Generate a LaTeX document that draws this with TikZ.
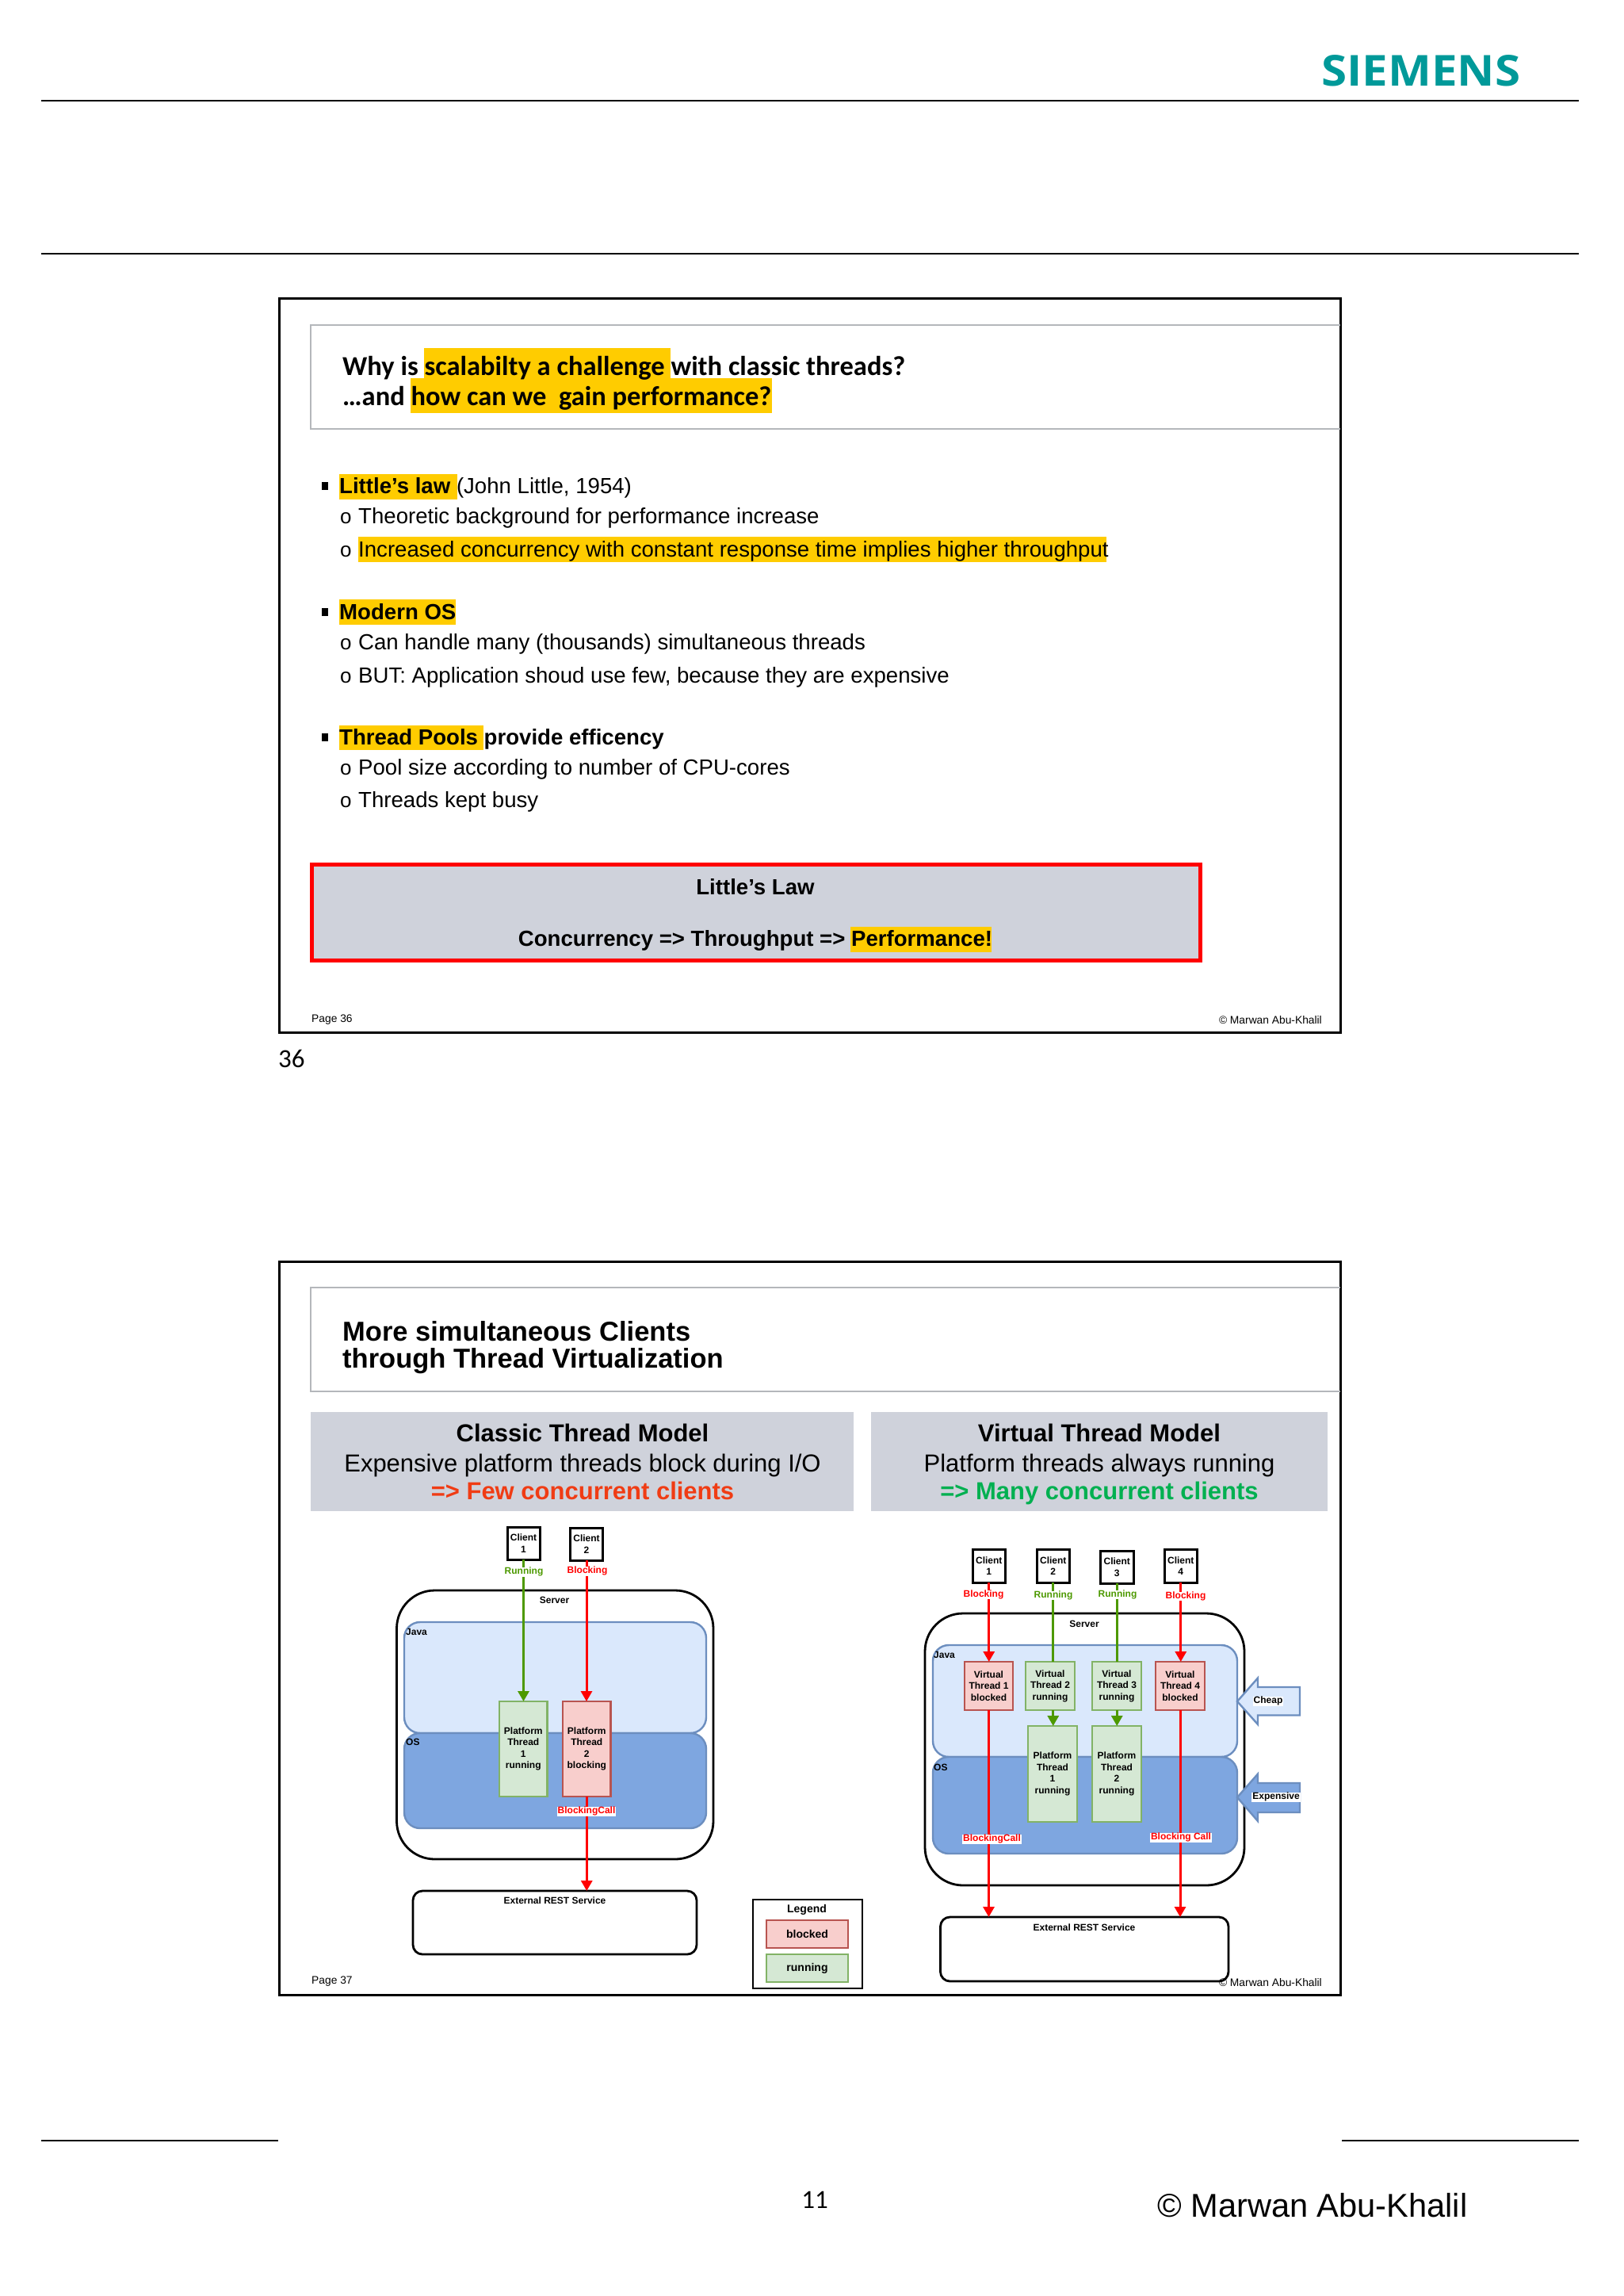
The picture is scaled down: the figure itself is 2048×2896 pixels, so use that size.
\documentclass[tikz,border=0pt]{standalone}
\usepackage{fontspec}
\setmainfont{Liberation Sans}
\newfontfamily\carl{Carlito}
\newfontfamily\siem{Open Sans}
\usetikzlibrary{arrows.meta,shapes.arrows}
\definecolor{hlc}{HTML}{FFCC00}
\definecolor{greybox}{HTML}{CFD2DB}
\definecolor{titleline}{HTML}{B4B7BB}
\definecolor{gs}{HTML}{82B366}\definecolor{gf}{HTML}{D5E8D4}
\definecolor{rs}{HTML}{B85450}\definecolor{rf}{HTML}{F8CECC}
\definecolor{bs}{HTML}{6C8EBF}\definecolor{jf}{HTML}{DAE8FC}\definecolor{of}{HTML}{7EA6E0}
\definecolor{gline}{HTML}{4D9900}
\definecolor{sgreen}{HTML}{009999}
\definecolor{fewc}{HTML}{F03C14}\definecolor{manyc}{HTML}{00B050}
\newcommand\fz[1]{\fontsize{#1}{#1}\selectfont}
\newcommand\bx[7]{\pgfmathsetmacro\bw{#5-#3}\pgfmathsetmacro\bh{#6-#4}%
  \node[anchor=north west,minimum width=\bw pt,minimum height=\bh pt,inner sep=0pt,outer sep=0pt,align=center,#1] (#2) at (#3,#4) {#7};}
\tikzset{
  x=1pt,y=-1pt,
  hl/.style={fill=hlc},
  slideframe/.style={draw=black,line width=3pt},
  tline/.style={draw=titleline,line width=1.6pt},
  rule/.style={draw=black,line width=1.6pt},
  ttl/.style={anchor=base west,inner sep=0pt,font=\carl\bfseries\fz{34.5}},
  ttlb/.style={anchor=base west,inner sep=0pt,font=\bfseries\fz{34.5}},
  item/.style={anchor=base west,inner sep=0pt,font=\fz{27.6}},
  itemb/.style={anchor=base west,inner sep=0pt,font=\bfseries\fz{27.6}},
  squarebul/.style={fill=black,minimum width=8pt,minimum height=10pt,inner sep=0pt},
  sub/.style={anchor=base west,inner sep=0pt,font=\fz{26}},
  cent/.style={anchor=base,inner sep=0pt},
  small/.style={inner sep=0pt,font=\fz{13.8}},
  greyhead/.style={fill=greybox},
  client/.style={draw=black,line width=3pt,fill=white,font=\bfseries\fontsize{12}{14.7}\selectfont},
  lbl/.style={inner sep=1pt,fill=white,font=\bfseries\fz{12},text height=.72em,text depth=.2em},
  plain/.style={inner sep=0pt,font=\bfseries\fz{12},text height=.72em,text depth=.2em},
  server/.style={draw=black,line width=2.8pt,rounded corners=48pt},
  java/.style={draw=bs,line width=2.4pt,fill=jf,rounded corners=20pt},
  os/.style={draw=bs,line width=2.4pt,fill=of,rounded corners=20pt},
  ext/.style={draw=black,line width=2.8pt,rounded corners=12pt,fill=white},
  gbox/.style={draw=gs,fill=gf,line width=2.6pt,font=\bfseries\fontsize{12}{14.5}\selectfont},
  rbox/.style={draw=rs,fill=rf,line width=2.6pt,font=\bfseries\fontsize{12}{14.5}\selectfont},
  leg/.style={font=\bfseries\fz{14}},
  redarr/.style={draw=red,line width=3pt,-{Triangle[width=14pt,length=13pt]}},
  greenarr/.style={draw=gline,line width=3pt,-{Triangle[width=14pt,length=13pt]}},
  greenln/.style={draw=gline,line width=3pt},
  blockarr/.style={draw=bs,line width=2.4pt},
}
\begin{document}
\begin{tikzpicture}
\useasboundingbox[fill=white] (0,0) rectangle (2048,2896);
% page furniture
\coordinate (r1a) at (52,127);\coordinate (r1b) at (1992,127);
\coordinate (r2a) at (52,320);\coordinate (r2b) at (1992,320);
\coordinate (r3a) at (52,2700);\coordinate (r3b) at (351,2700);
\coordinate (r4a) at (1693,2700);\coordinate (r4b) at (1992,2700);
\draw[rule] (r1a)--(r1b);\draw[rule] (r2a)--(r2b);\draw[rule] (r3a)--(r3b);\draw[rule] (r4a)--(r4b);
\node[anchor=base west,inner sep=0pt,text=sgreen,font=\siem\bfseries\fz{54}] (logo) at (1667,108) {\resizebox{251pt}{39pt}{SIEMENS}};
\node[anchor=base,inner sep=0pt,font=\carl\fz{33}] (pagenum) at (1028,2785) {11};
\node[anchor=base west,inner sep=0pt,font=\fz{41.6}] (copymain) at (1460,2796) {© Marwan Abu-Khalil};

% ===== slide 36
\bx{slideframe}{s1}{352}{376}{1691}{1302}{}
\draw[tline] (1691,410) -- (392,410) -- (392,541) -- (1691,541);
\bx{hl}{h1}{535}{439}{846}{477}{}
\bx{hl}{h2}{518}{477}{974}{521}{}
\node[ttl] (t1a) at (432,473) {Why is scalabilty a challenge with classic threads?};
\node[ttl] (t1b) at (432,511) {…and how can we\ \ gain performance?};

\bx{hl}{h3}{428}{598}{577}{630}{}
\bx{hl}{h4}{452}{677}{1396}{709}{}
\bx{hl}{h5}{428}{756}{575}{788}{}
\bx{hl}{h6}{428}{915}{610}{946}{}
\bx{squarebul}{b1}{406}{608}{414}{618}{}
\bx{squarebul}{b2}{406}{767}{414}{777}{}
\bx{squarebul}{b3}{406}{925}{414}{935}{}
\node[itemb] (i1) at (428,622) {Little’s law\ \textmd{(John Little, 1954)}};
\node[sub] (o1) at (429,660.5) {o};\node[item] (i2) at (452,660.5) {Theoretic background for performance increase};
\node[sub] (o2) at (429,702.5) {o};\node[item] (i3) at (452,702.5) {Increased concurrency with constant response time implies higher throughput};
\node[itemb] (i4) at (428,781) {Modern OS};
\node[sub] (o3) at (429,819) {o};\node[item] (i5) at (452,819) {Can handle many (thousands) simultaneous threads};
\node[sub] (o4) at (429,861) {o};\node[item] (i6) at (452,861) {BUT: Application shoud use few, because they are expensive};
\node[itemb] (i7) at (428,939) {Thread Pools provide efficency};
\node[sub] (o5) at (429,977) {o};\node[item] (i8) at (452,977) {Pool size according to number of CPU-cores};
\node[sub] (o6) at (429,1018) {o};\node[item] (i9) at (452,1018) {Threads kept busy};

\bx{draw=red,line width=5pt,fill=greybox}{lawbox}{393}{1090}{1514}{1211}{}
\bx{hl}{h7}{1073}{1169}{1251}{1201}{}
\node[cent,font=\bfseries\fz{27.6}] (law1) at (953,1128) {Little’s Law};
\node[cent,font=\bfseries\fz{27.6}] (law2) at (953,1193) {Concurrency => Throughput => Performance!};
\node[small,anchor=base west] (p36) at (393,1289) {Page 36};
\node[small,anchor=base east] (c36) at (1668,1291) {© Marwan Abu-Khalil};
\node[anchor=base west,inner sep=0pt,font=\carl\fz{33}] (n36) at (351,1346) {36};

% ===== slide 37
\bx{slideframe}{s2}{352}{1591}{1691}{2516}{}
\draw[tline] (1691,1624) -- (392,1624) -- (392,1755) -- (1691,1755);
\node[ttlb] (t2a) at (432,1691) {More simultaneous Clients};
\node[ttlb] (t2b) at (432,1725) {through Thread Virtualization};
\bx{greyhead}{gl}{392}{1781}{1077}{1906}{}
\bx{greyhead}{gr}{1099}{1781}{1675}{1906}{}
\node[cent,font=\bfseries\fz{31}] (gl1) at (735,1818) {Classic Thread Model};
\node[cent,font=\fz{31}] (gl2) at (735,1856) {Expensive platform threads block during I/O};
\node[cent,font=\bfseries\fz{31},text=fewc] (gl3) at (735,1891) {=> Few concurrent clients};
\node[cent,font=\bfseries\fz{31}] (gr1) at (1387,1818) {Virtual Thread Model};
\node[cent,font=\fz{31}] (gr2) at (1387,1856) {Platform threads always running};
\node[cent,font=\bfseries\fz{31},text=manyc] (gr3) at (1387,1891) {=> Many concurrent clients};

% --- classic diagram
\bx{server}{aserver}{500.5}{2006}{900}{2345}{}
\bx{java}{ajava}{510}{2046}{891}{2186}{}
\bx{os}{aos}{510}{2186}{891}{2306}{}
\bx{client}{ac1}{640}{1926}{681}{1967}{Client\\1}
\bx{client}{ac2}{719.5}{1927}{760.5}{1968}{Client\\2}
\bx{gbox}{apt1}{630}{2146}{690.5}{2266}{Platform\\Thread\\1\\running}
\bx{rbox}{apt2}{710}{2146}{770.5}{2266}{Platform\\Thread\\2\\blocking}
\bx{ext}{aext}{521}{2385}{879}{2465}{}
\draw[greenarr] (ac1.south) -- (ac1.south |- apt1.north);
\draw[redarr] (ac2.south) -- (ac2.south |- apt2.north);
\draw[redarr] (apt2.south) -- (apt2.south |- aext.north);
\node[plain] (asrv) at (699.5,2020) {Server};
\node[plain,anchor=west] (aj) at (512,2060) {Java};
\node[plain,anchor=west] (ao) at (512,2199) {OS};
\node[plain] (aextl) at (700,2398.5) {External REST Service};
\node[lbl,text=gline] (alr) at (661,1983) {Running};
\node[lbl,text=red] (alb) at (741,1982) {Blocking};
\node[lbl,text=red] (albc) at (740,2285) {BlockingCall};
% legend
\bx{draw=black,line width=2.4pt}{legbox}{950}{2396}{1088}{2508}{}
\node[leg,inner sep=0pt] (legt) at (1018,2409) {Legend};
\bx{rbox,font=\bfseries\fz{14}}{legb}{967}{2422}{1070}{2457}{blocked}
\bx{gbox,font=\bfseries\fz{14}}{legr}{967}{2465}{1070}{2500}{running}
\node[small,anchor=base west] (p37) at (393,2502) {Page 37};

% --- virtual diagram
\bx{server}{bserver}{1167}{2035}{1570}{2378}{}
\bx{java}{bjava}{1177}{2075}{1561}{2216}{}
\bx{os}{bos}{1177}{2216}{1561}{2338}{}
\bx{client}{bc1}{1227}{1954}{1268.5}{1996}{Client\\1}
\bx{client}{bc2}{1308}{1954}{1349.5}{1996}{Client\\2}
\bx{client}{bc3}{1388.5}{1956}{1430}{1997}{Client\\3}
\bx{client}{bc4}{1469}{1954}{1510.5}{1996}{Client\\4}
\bx{rbox}{bv1}{1217}{2096}{1278}{2157}{Virtual\\Thread 1\\blocked}
\bx{gbox}{bv2}{1294}{2096}{1356}{2157}{Virtual\\Thread 2\\running}
\bx{gbox}{bv3}{1378}{2096}{1440}{2157}{Virtual\\Thread 3\\running}
\bx{rbox}{bv4}{1458}{2096}{1520}{2157}{Virtual\\Thread 4\\blocked}
\bx{gbox}{bp1}{1297}{2177}{1359}{2298}{Platform\\Thread\\1\\running}
\bx{gbox}{bp2}{1378}{2177}{1440}{2298}{Platform\\Thread\\2\\running}
\bx{ext}{bext}{1186.5}{2418}{1550}{2499}{}
\draw[redarr] (bc1.south) -- (bc1.south |- bv1.north);
\draw[greenln] (bc2.south) -- (bc2.south |- bv2.north);
\draw[greenln] (bc3.south) -- (bc3.south |- bv3.north);
\draw[redarr] (bc4.south) -- (bc4.south |- bv4.north);
\draw[greenarr] (bc2.south |- bv2.south) -- (bc2.south |- bp1.north);
\draw[greenarr] (bc3.south |- bv3.south) -- (bc3.south |- bp2.north);
\draw[redarr] (bv1.south) -- (bv1.south |- bext.north);
\draw[redarr] (bv4.south) -- (bv4.south |- bext.north);
\node[plain] (bsrv) at (1368,2049.5) {Server};
\node[plain,anchor=west] (bj) at (1178,2089) {Java};
\node[plain,anchor=west] (bo) at (1178,2230.5) {OS};
\node[plain] (bextl) at (1368,2432.5) {External REST Service};
\node[lbl,text=red] (bl1) at (1241,2011.5) {Blocking};
\node[lbl,text=gline] (bl2) at (1329,2012.5) {Running};
\node[lbl,text=gline] (bl3) at (1410,2011.5) {Running};
\node[lbl,text=red] (bl4) at (1496,2013.5) {Blocking};
\node[lbl,text=red] (bl5) at (1251.5,2320) {BlockingCall};
\node[lbl,text=red] (bl6) at (1490,2318) {Blocking Call};
% block arrows
\draw[blockarr,fill=jf] (1561,2146) -- (1587,2116.5) -- (1587,2128) -- (1640,2128) -- (1640,2163.5) -- (1587,2163.5) -- (1587,2175) -- cycle;
\draw[blockarr,fill=of] (1561,2267) -- (1587,2237.5) -- (1587,2249) -- (1640,2249) -- (1640,2286) -- (1587,2286) -- (1587,2297) -- cycle;
\node[lbl] (cheap) at (1600,2146) {Cheap};
\node[lbl] (expens) at (1610,2267) {Expensive};
\node[small,anchor=base east] (c37) at (1668,2505) {© Marwan Abu-Khalil};
\end{tikzpicture}
\end{document}
